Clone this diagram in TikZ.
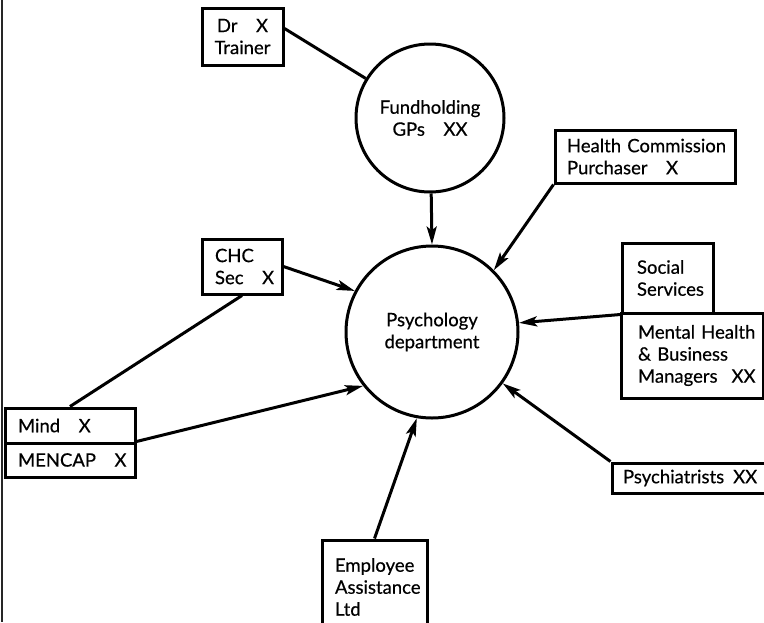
\documentclass[tikz,border=0pt]{standalone}
\usepackage{fontspec}
\setmainfont{Lato}[FakeBold=0.5]
\usetikzlibrary{arrows.meta}
\begin{document}
\begin{tikzpicture}[x=1pt,y=-1pt,
  every node/.style={font=\fontsize{18.5}{22}\selectfont},
  stroke/.style={line width=3pt},
  box/.style={draw, stroke, rectangle, align=left, inner ysep=0pt},
  disc/.style={draw, stroke, circle, align=center, inner sep=0pt},
  link/.style={stroke},
  feed/.style={stroke, -{Stealth[length=18pt,width=10pt,inset=4pt]}}
]
\useasboundingbox (0,0) rectangle (764,622);
\clip (0,0) rectangle (764,622);

% frame edge on the left
\draw[line width=2.5pt, black!85] (2,0) -- (2,622);

% the two circles
\node[disc, minimum size=148pt] (fund) at (430,118) {Fundholding\\GPs\quad XX};
\node[disc, minimum size=172pt] (psych) at (432,332) {Psychology\\department};

% boxes (each line kept whole with \mbox)
\node[box, minimum height=57pt, inner xsep=12pt, text width=57pt, align=center] (dr) at (242.5,36.5) {\mbox{Dr\quad X}\\Trainer};
\node[box, minimum height=53pt, inner xsep=12pt, text width=156pt] (health) at (645,156.5) {\mbox{Health Commission}\\\mbox{Purchaser\quad X}};
\node[box, minimum height=70pt, inner xsep=15pt, text width=61pt] (social) at (667.5,278) {Social\\Services};
\node[box, minimum height=85pt, inner xsep=17pt, text width=108pt] (mental) at (692,355.5) {\mbox{Mental Health}\\\mbox{\& Business}\\\mbox{Managers\hspace{14pt}XX}};
\node[box, minimum height=55pt, inner xsep=13pt, text width=54pt] (chc) at (242,266.5) {CHC\\\mbox{Sec\quad X}};
\node[box, minimum height=35pt, inner xsep=13pt, text width=104pt] (mind) at (70,425.5) {\mbox{Mind\quad X}};
\node[box, minimum height=34pt, inner xsep=13pt, text width=104pt] (mencap) at (70,460) {\mbox{MENCAP\quad X}};
\node[box, minimum height=30pt, inner xsep=11pt, text width=156pt] (psychiatrists) at (701,478) {\mbox{Psychiatrists\hspace{9pt}XX}};
\node[box, minimum height=94pt, inner xsep=13pt, text width=79pt] (employee) at (374.5,587) {Employee\\Assistance\\Ltd};

% connectors
\draw[link] ([yshift=8pt]dr.east) -- (fund);
\draw[link] (mind.north) -- (chc.south);
\draw[feed] (fund) -- (psych.90);
\draw[feed] (health.south west) -- (psych.45);
\draw[feed] (social.south west) -- (psych.6);
\draw[feed] (psychiatrists.north west) -- (psych.324);
\draw[feed] (employee.north) -- (psych.260);
\draw[feed] (mencap.north east) -- (psych.218);
\draw[feed] (chc.east) -- (psych.152);
\end{tikzpicture}
\end{document}
